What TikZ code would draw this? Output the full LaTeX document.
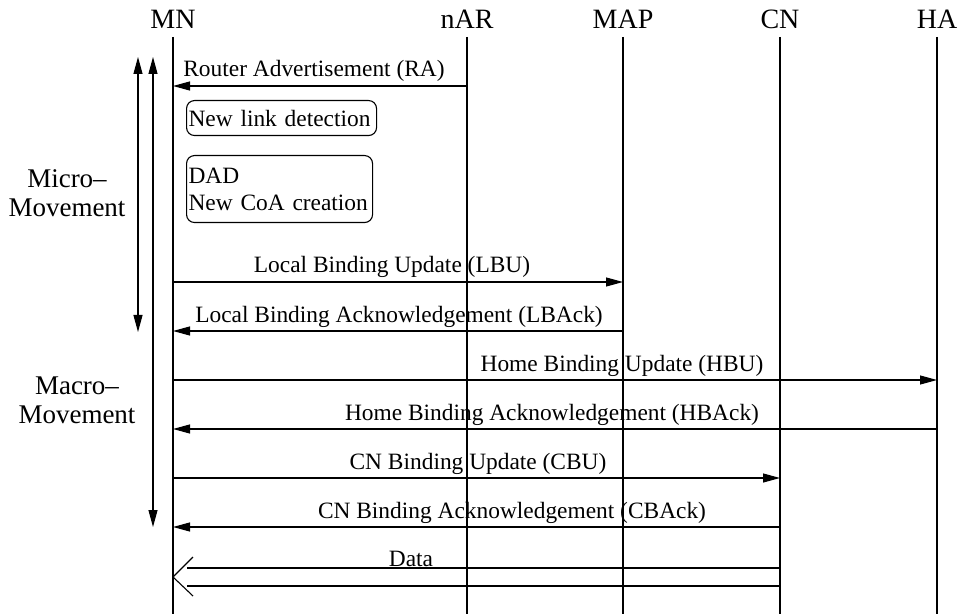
\documentclass[tikz,border=0pt]{standalone}
\usepackage{fontspec}
\setmainfont{Liberation Serif}
\usetikzlibrary{arrows.meta}

\tikzset{
  actor/.style={font=\fontsize{14}{16}\selectfont, anchor=base},
  lifeline/.style={line width=1pt},
  msg/.style={line width=0.55pt, -{Triangle[length=8.5pt,width=4.5pt]}},
  span/.style={line width=0.55pt, {Triangle[length=8.5pt,width=4.5pt]}-{Triangle[length=8.5pt,width=4.5pt]}},
  lbl/.style={font=\fontsize{11.7}{14}\selectfont, anchor=base, inner sep=0pt},
  note/.style={draw, line width=0.55pt, rounded corners=4pt, anchor=north west,
    font=\fontsize{11.7}{13.5}\selectfont, align=left, inner xsep=1pt, inner ysep=0pt},
  side/.style={font=\fontsize{13.5}{14.5}\selectfont, align=center},
}

\begin{document}
\begin{tikzpicture}[x=0.5pt,y=-0.5pt]
    \useasboundingbox (0,0) rectangle (962,614);

    % Actores y lineas de vida
    \foreach \name/\x in {MN/173, nAR/467, MAP/623, CN/780, HA/937} {
        \node[actor] (\name) at (\x,29) {\name};
        \coordinate (\name-end) at (\x,614);
        \draw[lifeline] (\name |- 0,37) -- (\name-end);
    }

    % Mensajes
    \foreach \y/\a/\b/\cx/\txt in {
        86/nAR/MN/314/{Router Advertisement (RA)},
        282/MN/MAP/392/{Local Binding Update (LBU)},
        331/MAP/MN/399/{Local Binding Acknowledgement (LBAck)},
        380/MN/HA/622/{Home Binding Update (HBU)},
        429/HA/MN/552/{Home Binding Acknowledgement (HBAck)},
        478/MN/CN/478/{CN Binding Update (CBU)},
        527/CN/MN/512/{CN Binding Acknowledgement (CBAck)}} {
        \draw[msg] (\a |- 0,\y) -- (\b |- 0,\y);
        \node[lbl] at (\cx,\y-9) {\txt};
    }

    % Procesos en el MN
    \node[note, text width=93pt, minimum height=17.5pt] (link) at (186,100) {New link detection};
    \node[note, text width=91pt, minimum height=33.5pt] (coa) at (186,155) {DAD\\New CoA creation};

    % Datos
    \coordinate (d1) at (187,568);
    \coordinate (d2) at (187,586);
    \draw[line width=0.55pt] (CN |- d1) -- (d1);
    \draw[line width=0.55pt] (CN |- d2) -- (d2);
    \draw[line width=0.55pt] (193,557) -- (MN |- 0,577) -- (193,596);
    \node[lbl] (data) at (411,566) {Data};

    % Fases del movimiento
    \coordinate (micro-top) at (138,57);
    \coordinate (micro-bot) at (138,332);
    \coordinate (macro-top) at (153,57);
    \coordinate (macro-bot) at (153,527);
    \draw[span] (micro-top) -- (micro-bot);
    \draw[span] (macro-top) -- (macro-bot);
    \node[side] (micro) at (67,193) {Micro--\\Movement};
    \node[side] (macro) at (77,400) {Macro--\\Movement};
\end{tikzpicture}
\end{document}
